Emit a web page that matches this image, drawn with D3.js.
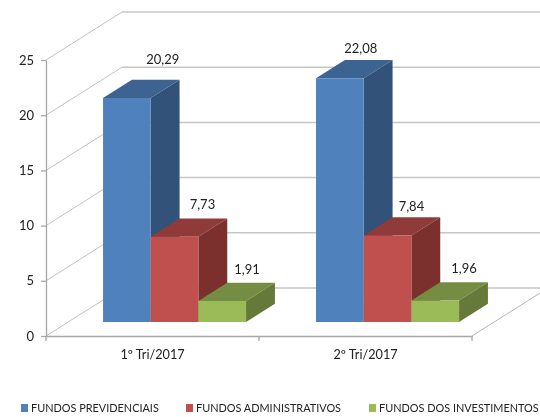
<!DOCTYPE html>
<html>
<head>
<meta charset="utf-8">
<script src="https://cdn.jsdelivr.net/npm/d3@7"></script>
<style>
html,body{margin:0;padding:0;background:#fff;overflow:hidden;}
svg{filter:blur(0.4px);}
text{font-family:Lato,"Open Sans",sans-serif;fill:#222;}
.axis path,.axis line{stroke:#a6a6a6;stroke-width:1.3;}
.axis text{fill:#222;}
</style>
</head>
<body>
<div id="chart"></div>
<script>
var categories = ["1º Tri/2017", "2º Tri/2017"];
var seriesNames = ["FUNDOS PREVIDENCIAIS", "FUNDOS ADMINISTRATIVOS", "FUNDOS DOS INVESTIMENTOS"];
var previdenciais = [20.29, 22.08];
var administrativos = [7.73, 7.84];
var investimentos = [1.91, 1.96];
var yTicks = [0, 5, 10, 15, 20, 25];

var seriesValues = [previdenciais, administrativos, investimentos];

var w = 540, h = 417;
var front = ["#4f81bd", "#c0504d", "#9bbb59"];
var topFace = ["#3c6391", "#8f3b39", "#748d43"];
var sideFace = ["#325279", "#7b302e", "#657a3a"];

// 3d offset of the back wall
var wallX = 76, wallY = 48;
var barDepth0 = 0.29, barDepth1 = 0.67;

var svg = d3.select("#chart").append("svg").attr("width", w).attr("height", h);

var xScale = d3.scaleBand().domain(d3.range(categories.length)).range([46, 472]);
var xNames = d3.scaleBand().domain(categories).range([46, 472]);
var yScale = d3.scaleLinear().domain([0, 25]).range([336, 60]);
var serScale = d3.scaleBand().domain(d3.range(seriesNames.length)).range([35, xScale.bandwidth() - 35]);

var pt = function(x, v, depth){
    return [x + depth * wallX, yScale(v) - depth * wallY];
};
var poly = function(points){
    return points.map(function(p){ return p.join(","); }).join(" ");
};

// walls
var grid = svg.append("g");
yTicks.forEach(function(t){
    var a = pt(46, t, 0), b = pt(46, t, 1);
    grid.append("line").attr("x1", a[0]).attr("y1", a[1]).attr("x2", b[0]).attr("y2", b[1])
        .attr("stroke", "#c2c2c2").attr("stroke-width", 1);
    grid.append("line").attr("x1", b[0]).attr("y1", b[1]).attr("x2", 472 + wallX).attr("y2", b[1])
        .attr("stroke", "#c6c6c6").attr("stroke-width", 1.5);
});
var fl = pt(472, 0, 1);
grid.append("line").attr("x1", 472).attr("y1", yScale(0)).attr("x2", fl[0]).attr("y2", fl[1])
    .attr("stroke", "#b5b5b5").attr("stroke-width", 1);

// axes
svg.append("g").attr("class", "axis").attr("transform", "translate(46,0)")
    .call(d3.axisLeft(yScale).tickValues(yTicks).tickSize(5).tickPadding(7).tickSizeOuter(0))
    .selectAll("text").style("font-size", "13px");

svg.append("g").attr("class", "axis").attr("transform", "translate(0,336)")
    .call(d3.axisBottom(xNames).tickSize(0).tickPadding(14))
    .selectAll("text").style("font-size", "12.7px");

svg.append("g").attr("class", "axis").attr("transform", "translate(0,336)")
    .selectAll("line").data(d3.range(categories.length + 1)).enter().append("line")
    .attr("x1", function(d){ return 46 + d * xScale.bandwidth(); })
    .attr("x2", function(d){ return 46 + d * xScale.bandwidth(); })
    .attr("y1", 0).attr("y2", 5);

// bars
var bars = svg.append("g");
categories.forEach(function(c, ci){
    seriesValues.forEach(function(vals, si){
        var v = vals[ci];
        var x0 = xScale(ci) + serScale(si), x1 = x0 + serScale.bandwidth();
        bars.append("polygon")
            .attr("points", poly([pt(x0, v, barDepth0), pt(x1, v, barDepth0), pt(x1, v, barDepth1), pt(x0, v, barDepth1)]))
            .attr("fill", topFace[si]);
        bars.append("polygon")
            .attr("points", poly([pt(x1, 0, barDepth0), pt(x1, v, barDepth0), pt(x1, v, barDepth1), pt(x1, 0, barDepth1)]))
            .attr("fill", sideFace[si]);
        bars.append("polygon")
            .attr("points", poly([pt(x0, 0, barDepth0), pt(x1, 0, barDepth0), pt(x1, v, barDepth0), pt(x0, v, barDepth0)]))
            .attr("fill", front[si]);
    });
});

// value labels, nudged by hand like in the original
var labelNudge = [
    [[7, -20], [-1, -14], [-4, -13]],
    [[-8, -12], [-5, -11], [0, -14]]
];
var fmt = function(v){ return v.toFixed(2).replace(".", ","); };
categories.forEach(function(c, ci){
    seriesValues.forEach(function(vals, si){
        var x0 = xScale(ci) + serScale(si);
        var p = pt(x0 + serScale.bandwidth() / 2, vals[ci], barDepth1);
        svg.append("text")
            .attr("x", p[0] + labelNudge[ci][si][0])
            .attr("y", p[1] + labelNudge[ci][si][1])
            .attr("dy", "0.35em")
            .attr("text-anchor", "middle")
            .style("font-size", "13px")
            .text(fmt(vals[ci]));
    });
});

// legend
var legendX = [21, 186, 369];
var legend = svg.append("g").selectAll("g").data(seriesNames).enter().append("g")
    .attr("transform", function(d, i){ return "translate(" + legendX[i] + ",404)"; });
legend.append("rect").attr("width", 7).attr("height", 8).attr("fill", function(d, i){ return front[i]; });
legend.append("text").attr("x", 10).attr("y", 4).attr("dy", "0.35em")
    .style("font-size", "10.9px")
    .text(function(d){ return d; });
</script>
</body>
</html>
